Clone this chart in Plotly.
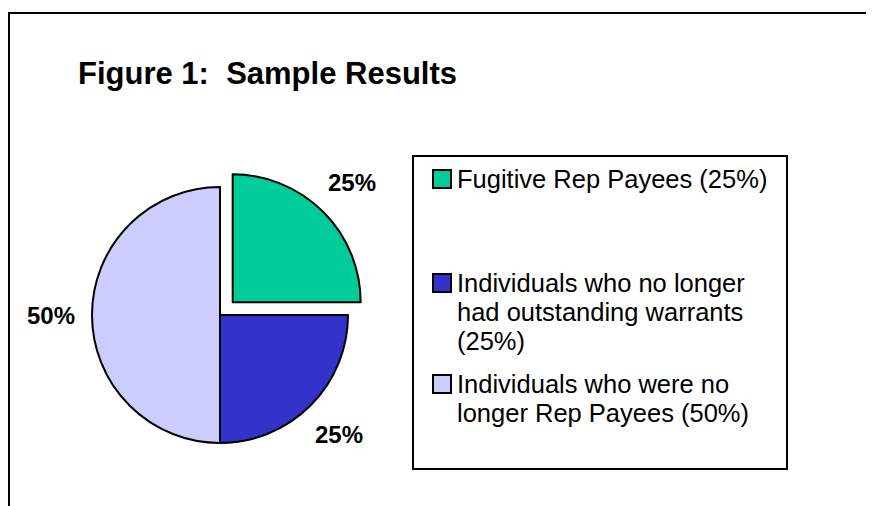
import math
import plotly.graph_objects as go

# page body keeps its default 8px margin, so the figure is drawn 8px in
OFF = 8
W, H = 874 - OFF, 506 - OFF

# --- data ---
categories = ["Fugitive Rep Payees", "Individuals who no longer had outstanding warrants",
              "Individuals who were no longer Rep Payees"]
values = [25, 25, 50]
colors = ["#00CC99", "#3333CC", "#CCCCFF"]
pulls = [0.14, 0, 0]
legend_lines = [
    ["Fugitive Rep Payees (25%)"],
    ["Individuals who no longer", "had outstanding warrants", "(25%)"],
    ["Individuals who were no", "longer Rep Payees (50%)"],
]

FONT = "Arial, Liberation Sans, sans-serif"


def px(x):
    return (x - OFF) / W


def py(y):
    return 1 - (y - OFF) / H


# pie geometry in window pixels
cx, cy, r = 220, 315, 128
half = r * (1 + max(pulls))

fig = go.Figure()
fig.add_trace(go.Pie(
    labels=categories,
    values=values,
    marker=dict(colors=colors, line=dict(color="black", width=2)),
    pull=pulls,
    sort=False,
    direction="clockwise",
    rotation=0,
    textinfo="none",
    hoverinfo="label+percent",
    showlegend=False,
    domain=dict(x=[px(cx - half), px(cx + half)], y=[py(cy + half), py(cy - half)]),
))

annotations = []
shapes = []

# percentage labels placed radially from each slice's mid angle
total = sum(values)
cum = 0
for v, p in zip(values, pulls):
    mid = (cum + v / 2) / total * 2 * math.pi
    cum += v
    ox = cx + p * r * math.sin(mid)
    oy = cy - p * r * math.cos(mid)
    lx = ox + 1.32 * r * math.sin(mid)
    ly = oy - 1.32 * r * math.cos(mid)
    annotations.append(dict(
        x=px(lx), y=py(ly), xref="paper", yref="paper", showarrow=False,
        text="<b>%d%%</b>" % round(v / total * 100),
        font=dict(family=FONT, size=24, color="black"),
        xanchor="center", yanchor="middle",
    ))

# title
annotations.append(dict(
    x=px(76), y=py(74), xref="paper", yref="paper", showarrow=False,
    text="<b>Figure 1:  Sample Results</b>",
    font=dict(family=FONT, size=31, color="black"),
    xanchor="left", yanchor="middle",
))

# outer frame (cropped on right and bottom)
shapes.append(dict(type="rect", xref="paper", yref="paper",
                   x0=px(9), y0=-0.1, x1=1.1, y1=py(13),
                   line=dict(color="black", width=2)))

# legend box
shapes.append(dict(type="rect", xref="paper", yref="paper",
                   x0=px(413), y0=py(469), x1=px(787), y1=py(156),
                   line=dict(color="black", width=2), fillcolor="white", layer="below"))

first_line_y = [179, 283, 384]
line_h = 29
for col, lines, y0 in zip(colors, legend_lines, first_line_y):
    shapes.append(dict(type="rect", xref="paper", yref="paper",
                       x0=px(433), x1=px(451), y0=py(y0 + 9), y1=py(y0 - 9),
                       line=dict(color="black", width=2), fillcolor=col))
    for i, t in enumerate(lines):
        annotations.append(dict(
            x=px(455), y=py(y0 + i * line_h), xref="paper", yref="paper", showarrow=False,
            text=t, font=dict(family=FONT, size=25.5, color="black"),
            xanchor="left", yanchor="middle",
        ))

fig.update_layout(
    width=W, height=H,
    margin=dict(l=0, r=0, t=0, b=0),
    paper_bgcolor="white",
    plot_bgcolor="white",
    annotations=annotations,
    shapes=shapes,
)

fig.write_html("out.html")
